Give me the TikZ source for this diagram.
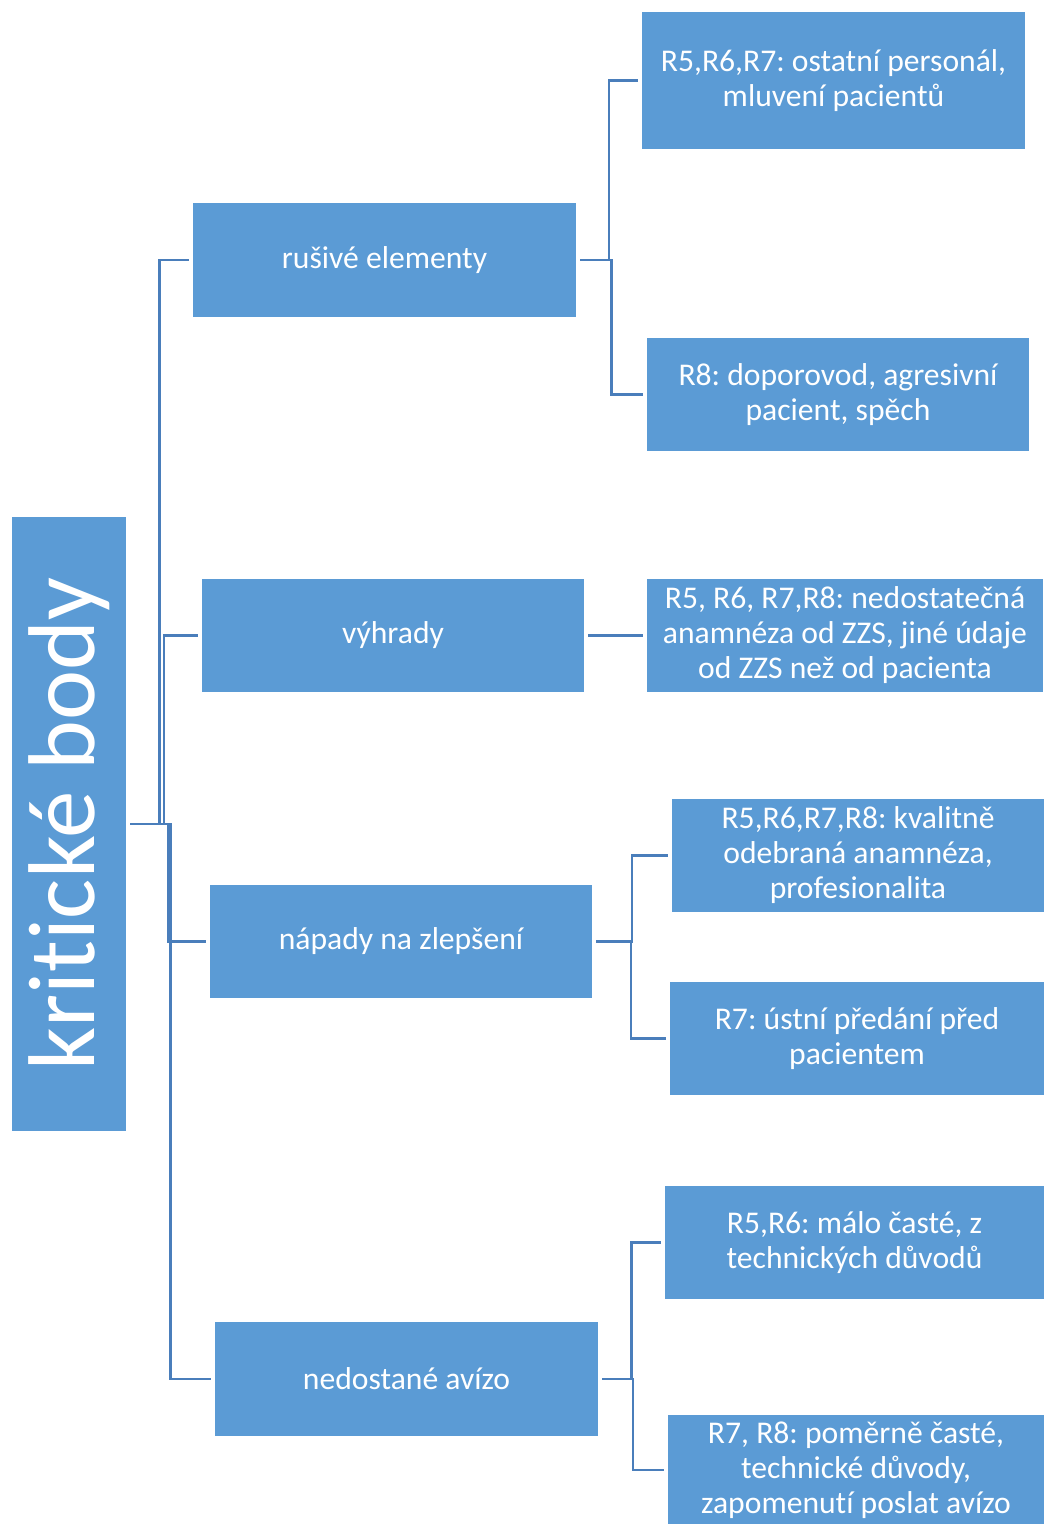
\documentclass[tikz,border=0pt]{standalone}
\usepackage{fontspec}
\usepackage{graphicx}
\setmainfont{Carlito}[Ligatures=NoCommon]
\frenchspacing
\usetikzlibrary{calc}
\definecolor{boxblue}{HTML}{5B9BD5}
\definecolor{lineblue}{HTML}{4A7EBB}

\begin{document}
\begin{tikzpicture}[x=0.02cm, y=-0.02cm]
    % Define block styles
    \tikzstyle{block} = [rectangle, fill=boxblue, text=white, align=center, inner sep=0pt, font=\fontsize{18}{19.9}\selectfont]
    \tikzstyle{line} = [draw=lineblue, line width=1.5pt, shorten <=0.08cm, shorten >=0.08cm]
    \tikzstyle{elbow} = [to path={(\tikztostart) -| ($(\tikztostart)!.5!(\tikztotarget)$) |- (\tikztotarget)}]

    \useasboundingbox (0,0) rectangle (1044,1524);

    % Nodes
    \node [block, minimum width=2.28cm, minimum height=12.3cm, font=\fontsize{54}{60}\selectfont] (kriticke body) at (69,824) {\rotatebox{90}{kritické body}};

    \node [block, minimum width=7.66cm, minimum height=2.28cm] (rusive) at (384.5,260) {rušivé elementy};
    \node [block, minimum width=7.64cm, minimum height=2.26cm] (vyhrady) at (393,635.5) {výhrady};
    \node [block, minimum width=7.64cm, minimum height=2.26cm] (napady) at (401,941.5) {nápady na zlepšení};
    \node [block, minimum width=7.66cm, minimum height=2.28cm] (avizo) at (406.5,1379) {nedostané avízo};

    \node [block, minimum width=7.66cm, minimum height=2.74cm] (personal) at (833.5,80.5) {R5,R6,R7: ostatní personál,\\mluvení pacientů};
    \node [block, minimum width=7.64cm, minimum height=2.26cm] (doporovod) at (838,394.5) {R8: doporovod, agresivní\\pacient, spěch};
    \node [block, minimum width=7.92cm, minimum height=2.26cm] (anamneza) at (845,635.5) {R5, R6, R7,R8: nedostatečná\\anamnéza od ZZS, jiné údaje\\od ZZS než od pacienta};
    \node [block, minimum width=7.44cm, minimum height=2.26cm] (kvalitne) at (858,855.5) {R5,R6,R7,R8: kvalitně\\odebraná anamnéza,\\profesionalita};
    \node [block, minimum width=7.48cm, minimum height=2.26cm] (ustni) at (857,1038.5) {R7: ústní předání před\\pacientem};
    \node [block, minimum width=7.58cm, minimum height=2.26cm] (malo) at (854.5,1242.5) {R5,R6: málo časté, z\\technických důvodů};
    \node [block, minimum width=7.52cm, minimum height=2.2cm] (pomerne) at (856,1470) {R7, R8: poměrně časté,\\technické důvody,\\zapomenutí poslat avízo};

    % Connecting lines
    \path [line] (kriticke body.east) to[elbow] (rusive.west);
    \path [line] (kriticke body.east) to[elbow] (vyhrady.west);
    \path [line] (kriticke body.east) to[elbow] (napady.west);
    \path [line] (kriticke body.east) to[elbow] (avizo.west);
    \path [line] (rusive.east) to[elbow] (personal.west);
    \path [line] (rusive.east) to[elbow] (doporovod.west);
    \path [line] (vyhrady.east) to[elbow] (anamneza.west);
    \path [line] (napady.east) to[elbow] (kvalitne.west);
    \path [line] (napady.east) to[elbow] (ustni.west);
    \path [line] (avizo.east) to[elbow] (malo.west);
    \path [line] (avizo.east) to[elbow] (pomerne.west);
\end{tikzpicture}
\end{document}
